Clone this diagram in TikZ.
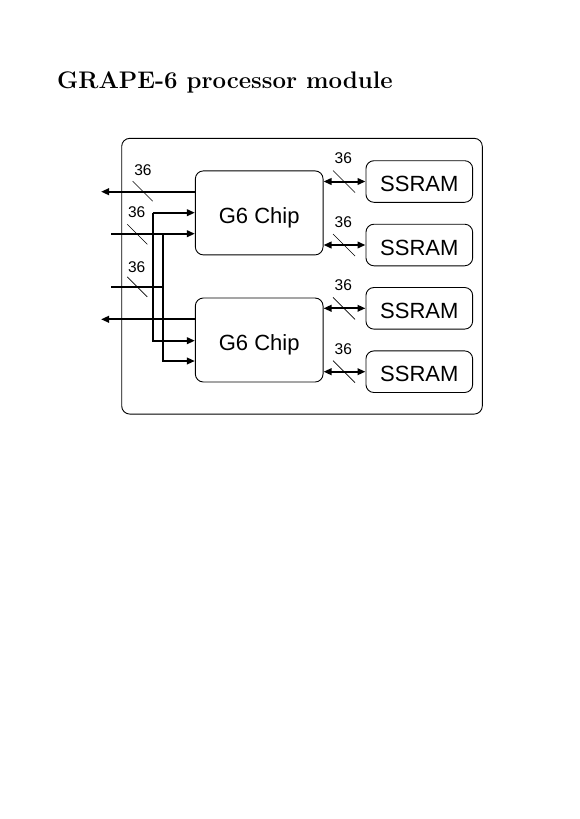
\documentclass[tikz,border=0pt]{standalone}
\usepackage{fontspec}
\newfontfamily\helv{Liberation Sans}
\usetikzlibrary{arrows.meta,calc}
\begin{document}
\begin{tikzpicture}[x=1pt,y=-1pt,
  box/.style={draw,line width=0.9pt,rounded corners=8pt,inner sep=0pt},
  chipbox/.style={box,minimum width=127.7pt,minimum height=84pt,text height=20.2pt,text depth=0pt,font=\helv\fontsize{22}{26}\selectfont},
  rambox/.style={box,minimum width=106.7pt,minimum height=41.6pt,text height=20.2pt,text depth=0pt,font=\helv\fontsize{22}{26}\selectfont},
  bus/.style={line width=2pt},
  tip/.style={-{Triangle[length=8pt,width=6.5pt]}},
  dtip/.style={{Triangle[length=8pt,width=6.5pt]}-{Triangle[length=8pt,width=6.5pt]}},
  slash/.style={line width=0.7pt},
  wlabel/.style={font=\helv\fontsize{15.5}{18}\selectfont,inner sep=0pt}
]
\useasboundingbox (0,0) rectangle (579,819);
\node[anchor=base west,inner sep=0pt,font=\fontsize{24}{29}\selectfont\bfseries] (title) at (57,88.3) {GRAPE-6 processor module};

\node[box,minimum width=360.6pt,minimum height=275.7pt] (module) at (302,276.2) {};

\node[chipbox] (chip1) at (259.2,212.9) {G6 Chip};
\node[chipbox] (chip2) at (259.2,340) {G6 Chip};

\node[rambox] (ram1) at (419.3,181.5) {SSRAM};
\node[rambox] (ram2) at (419.3,245) {SSRAM};
\node[rambox] (ram3) at (419.3,308.3) {SSRAM};
\node[rambox] (ram4) at (419.3,371.7) {SSRAM};

% chip to SSRAM buses
\foreach \c/\r in {chip1/ram1,chip1/ram2,chip2/ram3,chip2/ram4}{
  \draw[bus,dtip] (\c.east |- \r.west) -- (\r.west);
}
% right bus width marks
\foreach \r in {ram1,ram2,ram3,ram4}{
  \draw[slash] ($(344,0 |- \r.west)+(-11,-11)$) -- ($(344,0 |- \r.west)+(11,11)$);
  \node[wlabel] at ($(343.3,0 |- \r.west)+(0,-23)$) {36};
}

% left side
\coordinate (o1) at (101,191.7);
\coordinate (o2) at (101,319.3);
\coordinate (va) at (152.7,212.7);
\coordinate (vab) at (152.7,340.7);
\coordinate (in2) at (111,233.7);
\coordinate (vb) at (163.3,233.7);
\coordinate (vbb) at (163.3,361);
\coordinate (in3) at (111,286.7);
\coordinate (in3e) at (163.3,286.7);

\draw[bus,tip] (chip1.west |- o1) -- (o1);
\draw[bus,tip] (chip2.west |- o2) -- (o2);
\draw[bus,tip] (va) -- (chip1.west |- va);
\draw[bus,tip] (va) -- (vab) -- (chip2.west |- vab);
\draw[bus,tip] (in2) -- (chip1.west |- in2);
\draw[bus,tip] (vb) -- (vbb) -- (chip2.west |- vbb);
\draw[bus] (in3) -- (in3e);

% left width marks
\draw[slash] (132.7,181.2) -- (152.7,201.2);
\node[wlabel] at (143,170.5) {36};
\draw[slash] (127.3,224.3) -- (147.3,244.3);
\node[wlabel] at (136.7,212.3) {36};
\draw[slash] (127.3,276.9) -- (147.3,296.9);
\node[wlabel] at (136.7,266.7) {36};
\end{tikzpicture}
\end{document}
